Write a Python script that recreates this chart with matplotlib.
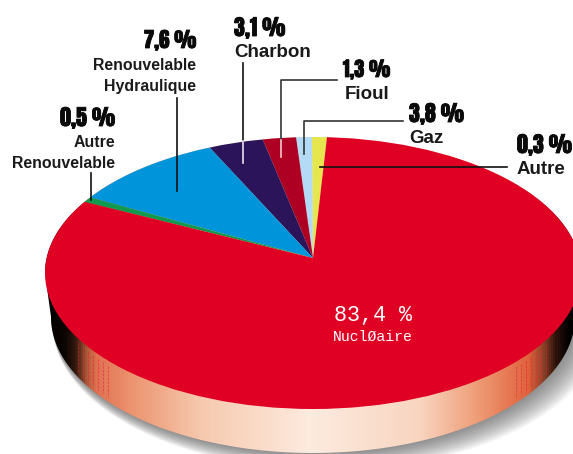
import numpy as np
import matplotlib
matplotlib.use("Agg")
import matplotlib.pyplot as plt
from matplotlib.colors import LinearSegmentedColormap
from matplotlib.patches import Ellipse, PathPatch
from matplotlib.path import Path
import matplotlib.patheffects as pe

# slice names, printed shares, and the share each slice really takes up in the drawing
slices = ["Autre", "Gaz", "Fioul", "Charbon", "Renouvelable Hydraulique", "Autre Renouvelable", "Nucléaire"]
printed = ["0,3 %", "3,8 %", "1,3 %", "3,1 %", "7,6 %", "0,5 %", "83,4 %"]
drawn_degrees = [7.1, 7.5, 15.0, 20.1, 31.7, 1.4, 277.2]
colors = ["#E6E64E", "#B4DBF5", "#AD0022", "#2B1459", "#0095DA", "#0F9A50", "#E00024"]

W, H = 573, 454
fig = plt.figure(figsize=(W / 100, H / 100), dpi=100)
ax = fig.add_axes([0, 0, 1, 1])

CX, CY, A, B = 313, 273, 268, 136
LOW_Y, LOW_A = 317, 262


def ellipse_pts(cx, cy, a, b, t):
    return np.column_stack([cx + a * np.cos(t), cy + b * np.sin(t)])


def rim_y(x, cy, a):
    return cy + B * np.sqrt(1 - ((x - CX) / a) ** 2)


# grey drop shadow, stacked so it darkens towards the disc
steps = 16
for i in range(steps):
    f = i / (steps - 1)
    ax.add_patch(Ellipse((328 - 15 * f, 325 - 8 * f), 2 * (275 - 13 * f), 2 * (145 - 9 * f),
                         fc="#4a4a4a", ec="none", alpha=0.055, zorder=1))

# rim of the disc
upper = ellipse_pts(CX, CY, A, B, np.linspace(np.pi, 2 * np.pi, 181))
lower = ellipse_pts(CX, LOW_Y, LOW_A, B, np.linspace(0, np.pi, 181))
side_path = Path(np.vstack([upper, lower, upper[:1]]), closed=True)
side_patch = PathPatch(side_path, fc="none", ec="none", transform=ax.transData)
ax.add_patch(side_patch)
side_cmap = LinearSegmentedColormap.from_list("rim", [
    (0.00, "#000000"), (0.037, "#0c0503"), (0.056, "#3a1c10"), (0.075, "#a85535"),
    (0.093, "#E07050"), (0.16, "#EC9470"), (0.29, "#F6C9AE"), (0.495, "#FDEBDF"),
    (0.70, "#F8D5C0"), (0.81, "#EE9C76"), (0.905, "#E0613C"), (0.933, "#8a4028"),
    (0.957, "#2a120a"), (0.98, "#000000"), (1.00, "#000000")])
grad = np.linspace(0, 1, 536).reshape(1, -1)
im = ax.imshow(grad, cmap=side_cmap, extent=(45, 581, H, 0), aspect="auto", zorder=2)
im.set_clip_path(side_patch)

# banding streaks where the rim turns dark
for x in list(range(78, 112, 5)) + list(range(516, 550, 5)):
    y0 = rim_y(x, CY, A) + 5
    y1 = rim_y(x, LOW_Y, LOW_A) - 5
    ax.plot([x, x], [y0, y1], color="#E8203A", lw=0.6, ls=(0, (3, 1.5)), alpha=0.65, zorder=2.5)

# top face, wedges meet at the off-centre apex and get cut by the ellipse
top = Ellipse((CX, CY), 2 * A, 2 * B, fc="none", ec="none", zorder=3)
ax.add_patch(top)
wedges, _ = ax.pie(drawn_degrees, colors=colors, center=(313, 258), radius=420,
                   startangle=-83.4, counterclock=False,
                   wedgeprops={"linewidth": 0, "zorder": 3})
for w in wedges:
    w.set_clip_on(True)
    w.set_clip_path(top)

ax.set_aspect("auto")
ax.set_xlim(0, W)
ax.set_ylim(H, 0)
ax.axis("off")

# leader lines, black outside and pale inside the dark slices
black = "#111111"
ax.plot([90.7, 90.7], [173, 200], color=black, lw=1.2, zorder=5)
ax.plot([177, 177], [98, 191], color=black, lw=1.2, zorder=5)
ax.plot([243, 243], [63, 141], color=black, lw=1.2, zorder=5)
ax.plot([243, 243], [141, 163], color="#E8E4F0", lw=1.2, zorder=5)
ax.plot([337, 281, 281], [80, 80, 140], color="#333333", lw=1.2, zorder=5)
ax.plot([281, 281], [140, 157], color="#F4C8D0", lw=1.2, zorder=5)
ax.plot([403, 304, 304], [121, 121, 154], color="#333333", lw=1.2, zorder=5)
ax.plot([507, 320], [167, 167], color=black, lw=1.2, zorder=5)

BIG_FONT = ["Anton", "Saira ExtraCondensed", "Liberation Sans"]


def big(x, y, s, ha="left", size=15.7):
    ax.text(x, y, s, ha=ha, va="baseline", fontsize=size, color="#0a0a0a",
            family=BIG_FONT, zorder=6,
            path_effects=[pe.withStroke(linewidth=0.6, foreground="#0a0a0a")])


def small(x, y, s, ha="left", size=13.5):
    ax.text(x, y, s, ha=ha, va="baseline", fontsize=size, fontweight="bold", color="#1a1a1a",
            family="Liberation Sans", zorder=6)


big(196, 48, printed[4], "right", size=15)
small(196, 70, "Renouvelable", "right", size=11.4)
small(196, 91, "Hydraulique", "right", size=11.4)
big(115, 126, printed[5], "right")
small(115, 147, "Autre", "right", size=11.4)
small(115, 168, "Renouvelable", "right", size=11.4)
big(234, 36, printed[3])
small(234, 57, slices[3])
big(390, 77, printed[2], "right", size=14.5)
small(390, 99, slices[2], "right")
big(409, 122, printed[1])
small(409, 143, slices[1])
big(517, 153, printed[0])
small(517, 174, slices[0])

ax.text(373, 321, printed[6], ha="center", va="baseline", fontsize=15.7, color="white",
        family="Liberation Mono", zorder=6)
ax.text(373, 341, "NuclØaire", ha="center", va="baseline", fontsize=10.6, color="white",
        family="Liberation Mono", zorder=6)

fig.savefig("out.png", dpi=100)
